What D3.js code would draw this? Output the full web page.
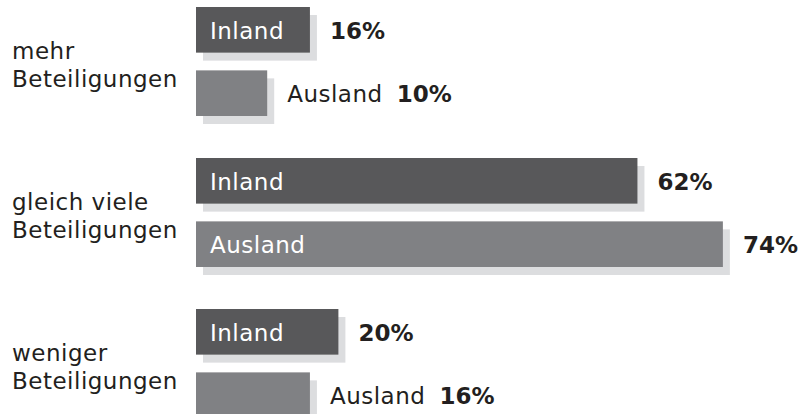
<!DOCTYPE html>
<html><head><meta charset="utf-8">
<script src="https://cdn.jsdelivr.net/npm/d3@7"></script>
<style>
html,body{margin:0;padding:0;background:#fff;}
svg text{font-family:"DejaVu Sans",sans-serif;}
</style></head>
<body>
<svg id="chart" width="800" height="414"></svg>
<script>
const groups = [["mehr","Beteiligungen"],["gleich viele","Beteiligungen"],["weniger","Beteiligungen"]];
const series = ["Inland","Ausland"];
const inland = [16, 62, 20];
const ausland = [10, 74, 16];
const valueLabels = ["%"];

const svg = d3.select("#chart");
const x = d3.scaleLinear().domain([0, 100]).range([196, 908]);
const yG = d3.scaleBand().domain(d3.range(groups.length)).range([7, 460]);
const yS = d3.scaleBand().domain(series).range([0, 109]).paddingInner(0.28);

const colors = {Inland:"#58585a", Ausland:"#808184"};
const shadow = "#dcdddf";
const textDark = "#231f20";
const fs = 23;
const ls = "0.5px";

const data = [];
groups.forEach((g,i)=>{
  data.push({g:i, s:"Inland", v:inland[i]});
  data.push({g:i, s:"Ausland", v:ausland[i]});
});

const root = svg.append("g");
const bh = yS.bandwidth();

root.selectAll("rect.sh").data(data).join("rect").attr("class","sh")
  .attr("x", x(0)+7).attr("y", d=>yG(d.g)+yS(d.s)+8)
  .attr("width", d=>x(d.v)-x(0)).attr("height", bh).attr("fill", shadow);
root.selectAll("rect.bar").data(data).join("rect").attr("class","bar")
  .attr("x", x(0)).attr("y", d=>yG(d.g)+yS(d.s))
  .attr("width", d=>x(d.v)-x(0)).attr("height", bh).attr("fill", d=>colors[d.s]);

const measure = root.append("text").attr("font-size",fs).attr("letter-spacing",ls).text("");
function tw(t){ measure.text(t); return measure.node().getComputedTextLength(); }

data.forEach(d=>{
  const y0 = yG(d.g)+yS(d.s);
  const base = y0 + bh/2 + 9;
  const w = x(d.v)-x(0);
  const nameW = tw(d.s);
  const inside = nameW + 28 < w;
  let vx;
  if (inside) {
    root.append("text").attr("x", x(0)+14).attr("y", base).attr("font-size",fs)
      .attr("letter-spacing",ls).attr("fill","#fff").text(d.s);
    vx = x(d.v) + 20;
  } else {
    root.append("text").attr("x", x(d.v)+20).attr("y", base).attr("font-size",fs)
      .attr("letter-spacing",ls).attr("fill",textDark).text(d.s);
    vx = x(d.v) + 20 + nameW + 14;
  }
  root.append("text").attr("x", vx).attr("y", base).attr("font-size",fs)
    .attr("font-weight",700).attr("fill",textDark).text(d.v + valueLabels[0]);
});
measure.remove();

groups.forEach((g,i)=>{
  const c = yG(i) + 109/2;
  g.forEach((line,j)=>{
    root.append("text").attr("x", 12).attr("y", c - 3 + j*28).attr("font-size",fs)
      .attr("letter-spacing",ls).attr("fill",textDark).text(line);
  });
});
</script>
</body></html>
